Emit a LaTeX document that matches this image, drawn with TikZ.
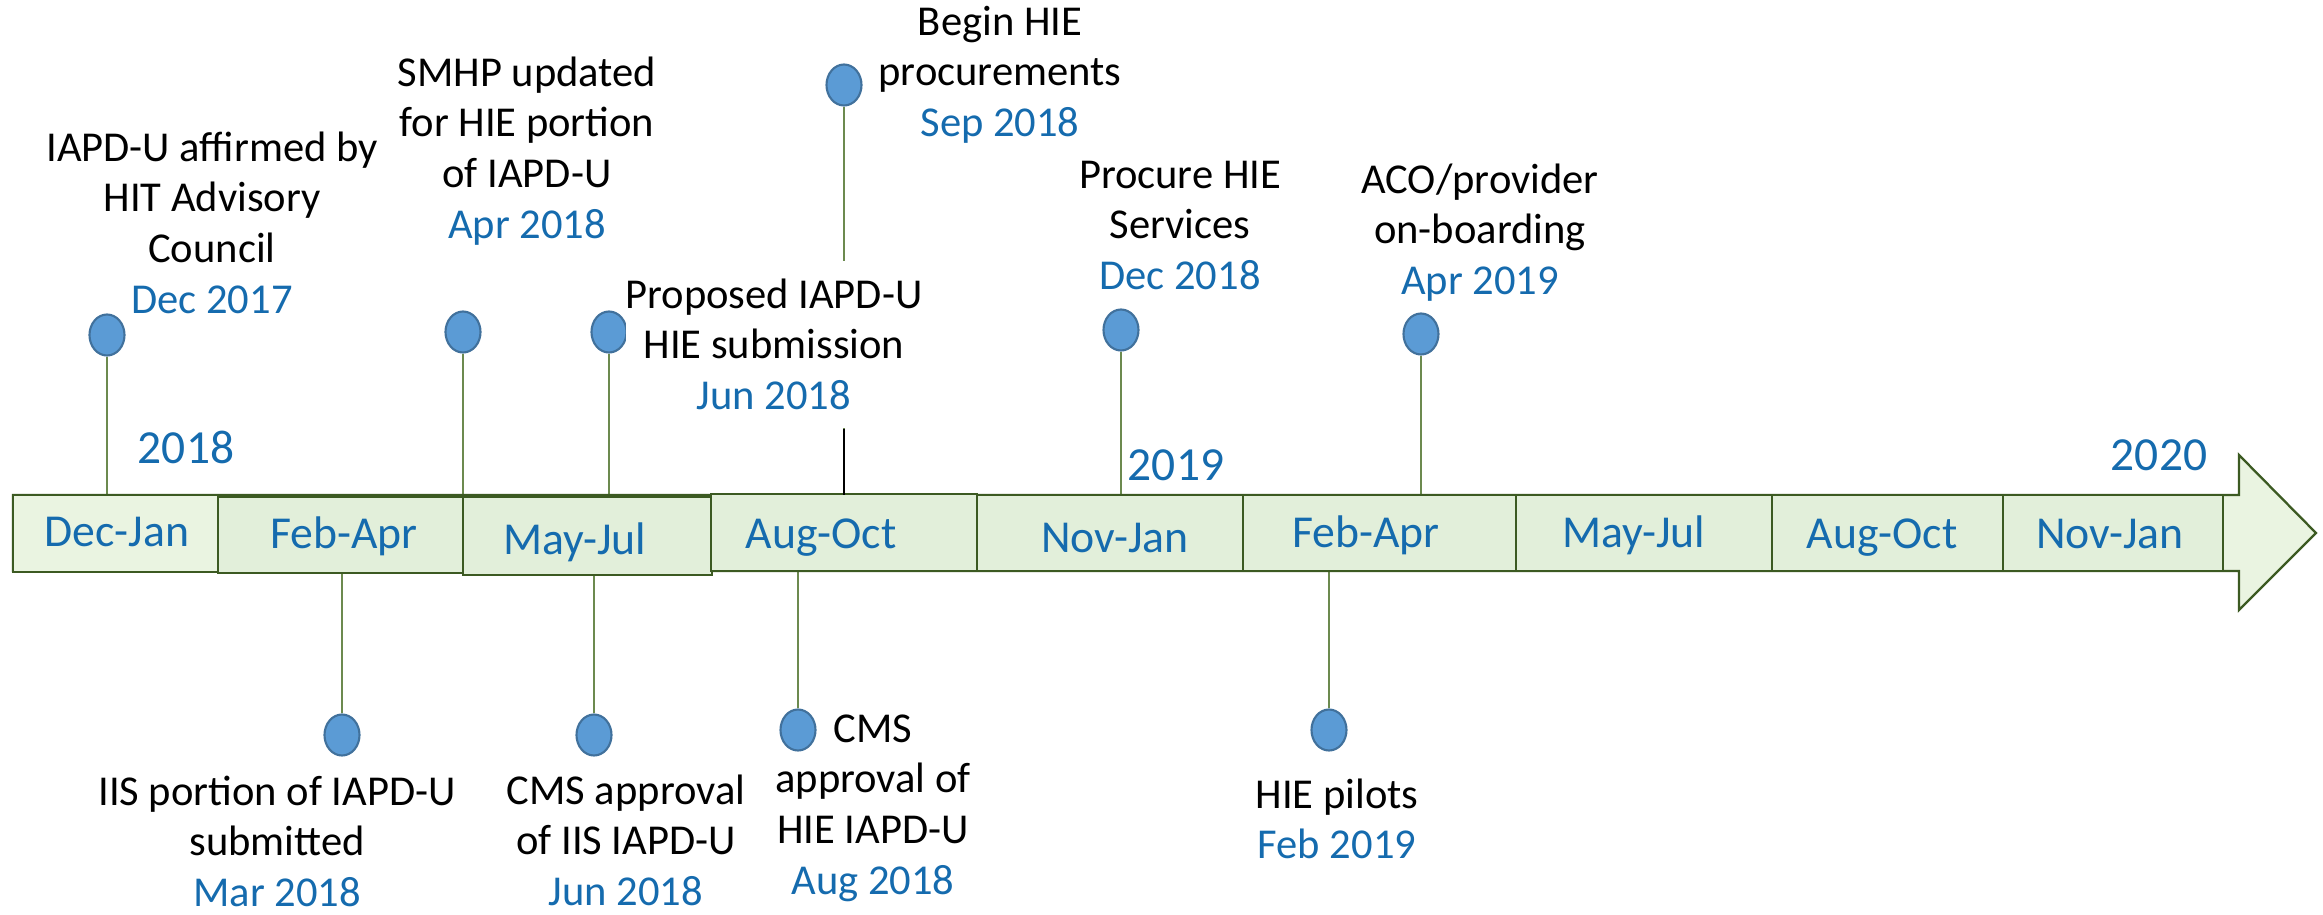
\documentclass[tikz,border=0pt]{standalone}
\usepackage{fontspec}
\setmainfont{Carlito}
\usetikzlibrary{shapes.geometric}
\definecolor{dateblue}{HTML}{156BAE}
\definecolor{barfill}{HTML}{E2EFDA}
\definecolor{barfilllight}{HTML}{EAF4E1}
\definecolor{bardraw}{HTML}{3C5A22}
\definecolor{stemc}{HTML}{6C8A4F}
\definecolor{dotfill}{HTML}{5B9BD5}
\definecolor{dotdraw}{HTML}{41719C}
\newcommand\evlines[2]{\vtop{\baselineskip=14.5pt\halign{\hfil##\hfil\cr#1\cr\textcolor{dateblue}{#2}\cr}}}
\tikzset{
  period/.style={draw=bardraw, fill=barfill, line width=0.65pt},
  plabel/.style={font=\fontsize{13}{15}\selectfont, text=dateblue, anchor=base, inner sep=0pt},
  yearlabel/.style={font=\fontsize{13.5}{16}\selectfont, text=dateblue, anchor=base, inner sep=0pt},
  dot/.style={ellipse, draw=dotdraw, fill=dotfill, line width=0.6pt, minimum width=0.35cm, minimum height=0.41cm, inner sep=0pt},
  stem/.style={draw=stemc, line width=0.35pt},
  evt/.style={font=\fontsize{12.1}{14.5}\selectfont, anchor=base, inner sep=0pt}
}
\begin{document}
\begin{tikzpicture}[x=0.01cm,y=-0.01cm]
\useasboundingbox (0,0) rectangle (2323,915);
\coordinate (bartop) at (0,495);
\coordinate (barbot) at (0,572);
% dots
\node[dot] (d1) at (107,335) {};
\node[dot] (d2) at (463,332) {};
\node[dot] (d3) at (609,332) {};
\node[dot] (d4) at (844,85) {};
\node[dot] (d5) at (1121,330) {};
\node[dot] (d6) at (1421,334) {};
\node[dot] (d7) at (342,735) {};
\node[dot] (d8) at (594,735) {};
\node[dot] (d9) at (798,730) {};
\node[dot] (d10) at (1329,730) {};
% stems
\draw[stem] (d1.south) -- (d1.south |- bartop);
\draw[stem] (d2.south) -- (d2.south |- bartop);
\draw[stem] (d3.south) -- (d3.south |- bartop);
\draw[stem] (d4.south) -- (d4.south |- bartop);
\draw[stem] (d5.south) -- (d5.south |- bartop);
\draw[stem] (d6.south) -- (d6.south |- bartop);
\draw[stem] (d7.north) -- (d7.north |- barbot);
\draw[stem] (d8.north) -- (d8.north |- barbot);
\draw[stem] (d9.north) -- (d9.north |- barbot);
\draw[stem] (d10.north) -- (d10.north |- barbot);
% arrow
\draw[bardraw, fill=barfilllight, line width=0.65pt, line join=miter]
  (13,495) -- (2239,495) -- (2239,455) -- (2316,533) -- (2239,610) -- (2239,571) -- (13,571) -- cycle;
% periods
\draw[period, fill=barfilllight] (13,495) rectangle (218,572);
\draw[period] (218,497) rectangle (463,573);
\draw[period] (463,497) rectangle (712,575);
\draw[period] (711,494) rectangle (977,571);
\draw[period] (977,495) rectangle (1243,571);
\draw[period] (1243,495) rectangle (1516,571);
\draw[period] (1516,495) rectangle (1772,571);
\draw[period] (1772,495) rectangle (2003,571);
\draw[period] (2003,495) rectangle (2223,571);
\node[plabel] (p1) at (117,546) {Dec-Jan};
\node[plabel] (p2) at (344,548) {Feb-Apr};
\node[plabel] (p3) at (575,554) {May-Jul};
\node[plabel] (p4) at (821,548) {Aug-Oct};
\node[plabel] (p5) at (1115,552) {Nov-Jan};
\node[plabel] (p6) at (1366,547) {Feb-Apr};
\node[plabel] (p7) at (1634,547) {May-Jul};
\node[plabel] (p8) at (1882,548) {Aug-Oct};
\node[plabel] (p9) at (2110,548) {Nov-Jan};
% years
\node[yearlabel] (y1) at (186,463) {2018};
\node[yearlabel] (y2) at (1176,480) {2019};
\node[yearlabel] (y3) at (2159,470) {2020};
% event texts
\node[evt] (t1) at (212,161) {\evlines{IAPD-U affirmed by\cr HIT Advisory\cr Council}{Dec 2017}};
\node[evt] (t2) at (527,86) {\evlines{SMHP updated\cr for HIE portion\cr of IAPD-U}{Apr 2018}};
\node[evt, fill=white, inner ysep=5pt] (t3) at (774,308) {\evlines{Proposed IAPD-U\cr HIE submission}{Jun 2018}};
\draw[black, line width=0.35pt] (t3.south -| d4) -- (d4 |- bartop);
\node[evt] (t4) at (1000,35) {\evlines{Begin HIE\cr procurements}{Sep 2018}};
\node[evt] (t5) at (1180,188) {\evlines{Procure HIE\cr Services}{Dec 2018}};
\node[evt] (t6) at (1480,193) {\evlines{ACO/provider\cr on-boarding}{Apr 2019}};
\node[evt] (t7) at (277,805) {\evlines{IIS portion of IAPD-U\cr submitted}{Mar 2018}};
\node[evt] (t8) at (626,804) {\evlines{CMS approval\cr of IIS IAPD-U}{Jun 2018}};
\node[evt] (t9) at (873,742) {\evlines{CMS\cr approval of\cr HIE IAPD-U}{Aug 2018}};
\node[evt] (t10) at (1337,808) {\evlines{HIE pilots}{Feb 2019}};
\end{tikzpicture}
\end{document}
